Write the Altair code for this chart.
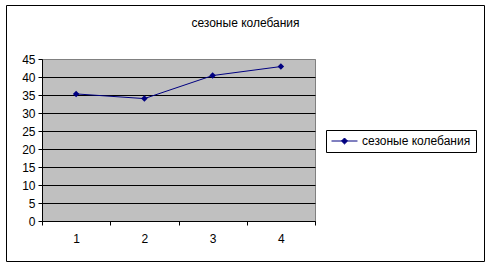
import altair as alt
import pandas as pd

quarters = ["1", "2", "3", "4"]
values = [35.3, 34.0, 40.4, 42.9]
series_name = "сезоные колебания"
title_text = ["сезоные колебания"]
y_ticks = [0, 5, 10, 15, 20, 25, 30, 35, 40, 45]

FONT = "Liberation Sans"
NAVY = "#000080"

df = pd.DataFrame({"q": quarters, "v": values, "series": [series_name] * len(quarters)})

x_enc = alt.X(
    "q:N",
    sort=quarters,
    scale=alt.Scale(paddingInner=0, paddingOuter=0),
    axis=alt.Axis(
        title=None, labelAngle=0, tickBand="extent", tickSize=4, labelPadding=8,
        domainColor="black", tickColor="black", labelColor="black",
        labelFont=FONT, labelFontSize=12, grid=False,
    ),
)
y_enc = alt.Y(
    "v:Q",
    scale=alt.Scale(domain=[0, 45], nice=False, zero=True),
    axis=alt.Axis(
        title=None, values=y_ticks, tickSize=4, labelPadding=3,
        domainColor="black", tickColor="black", labelColor="black",
        labelFont=FONT, labelFontSize=12, grid=True, labelOverlap=False,
        labelFlush=False,
        gridColor={"condition": {"test": "datum.value === 45", "value": "#808080"}, "value": "black"},
        gridWidth=1,
    ),
)

# legend symbol: line with a diamond, drawn in a small nominal box (11 px)
legend_symbol = (
    "M-1,0L3.727,0"
    "M0.82,0L1.364,-0.545L1.909,0L1.364,0.545Z"
)

line = alt.Chart(df).mark_line(strokeWidth=1).encode(
    x=x_enc,
    y=y_enc,
    color=alt.Color(
        "series:N",
        scale=alt.Scale(range=[NAVY]),
        legend=alt.Legend(
            title=None, orient="none", legendX=284, legendY=71,
            strokeColor="black", padding=5, fillColor="white",
            symbolType=legend_symbol,
            symbolSize=121, symbolStrokeWidth=1, symbolFillColor=NAVY,
            symbolStrokeColor=NAVY, labelFont=FONT, labelFontSize=12,
            labelColor="black", labelOffset=19,
        ),
    ),
)

points = alt.Chart(df).mark_point(
    shape="diamond", filled=True, size=42, color=NAVY, opacity=1
).encode(x=x_enc, y=y_enc)

frame_df = pd.DataFrame({"k": [0]})
frame = alt.Chart(frame_df).mark_rect(fill=None, stroke="black", strokeWidth=1).encode(
    x=alt.value(-35.5), x2=alt.value(442.5), y=alt.value(-53.5), y2=alt.value(202.5)
)

title_df = pd.DataFrame({"t": title_text})
title = alt.Chart(title_df).mark_text(
    font=FONT, fontSize=12, color="black", align="center", baseline="alphabetic"
).encode(text="t:N", x=alt.value(203.5), y=alt.value(-32))

chart = alt.layer(frame, line, points, title).properties(
    width=273, height=162,
    autosize=alt.AutoSizeParams(type="none"),
    padding={"left": 42, "top": 59, "right": 176, "bottom": 47},
    background="white",
).configure_view(fill="#C0C0C0", stroke="#808080", strokeWidth=1)

chart.save("out.html", embed_options={"renderer": "svg", "actions": False})
